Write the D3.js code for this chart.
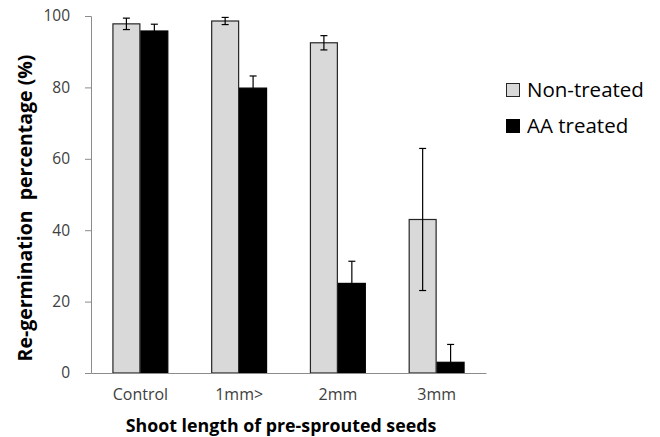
<!DOCTYPE html>
<meta charset="utf-8">
<style>
body { margin: 0; background: #fff; }
svg { font-family: "Open Sans", Lato, sans-serif; }
.axis path, .axis line { stroke: #8c8c8c; }
.axis text { fill: #404040; font-family: "Open Sans", Lato, sans-serif; }
</style>
<svg width="660" height="437"></svg>
<script src="https://d3js.org/d3.v7.min.js"></script>
<script>

var categories = ["Control", "1mm>", "2mm", "3mm"];
var seriesNames = ["Non-treated", "AA treated"];
var nonTreated = [97.8, 98.6, 92.5, 43];
var nonTreatedErr = [1.6, 1.0, 2.0, 19.9];
var aaTreated = [95.8, 79.8, 25.1, 3.0];
var aaTreatedErr = [1.9, 3.4, 6.2, 5.0];
var yTicks = [0, 20, 40, 60, 80, 100];

var fills = ["#d9d9d9", "#000000"];
var strokes = ["#262626", "#000000"];

var mLeft = 91, mRight = 486, mTop = 16, mBottom = 373;

var svg = d3.select("svg");

var x = d3.scaleBand().domain(categories).range([mLeft, mRight]);
// the pair of bars fills about 57% of each band, centred
var xs = d3.scaleBand().domain([0, 1]).range([x.bandwidth() * 0.217, x.bandwidth() * 0.783]);

var y = d3.scaleLinear().domain([0, 100]).range([mBottom, mTop]);

// y axis
var yAxis = svg.append("g").attr("class", "axis")
	.attr("transform", "translate(" + mLeft + ",0)")
	.call(d3.axisLeft(y).tickValues(yTicks).tickSize(6).tickSizeOuter(6).tickPadding(15));
yAxis.attr("font-family", null);
yAxis.selectAll("text").style("font-size", "15.5px");

var rows = categories.map(function(c, i) {
	return [
		{cat: c, s: 0, v: nonTreated[i], e: nonTreatedErr[i]},
		{cat: c, s: 1, v: aaTreated[i], e: aaTreatedErr[i]}
	];
});

var groups = svg.selectAll("g.grp")
	.data(rows)
	.enter().append("g")
		.attr("class", "grp")
		.attr("transform", function(d, i) { return "translate(" + x(categories[i]) + ",0)"; });

groups.selectAll("rect")
	.data(function(d) { return d; })
	.enter().append("rect")
		.attr("x", function(d) { return xs(d.s) + 0.5; })
		.attr("y", function(d) { return y(d.v); })
		.attr("width", xs.bandwidth() - 1)
		.attr("height", function(d) { return y(0) - y(d.v); })
		.attr("fill", function(d) { return fills[d.s]; })
		.attr("stroke", function(d) { return strokes[d.s]; })
		.attr("stroke-width", 1.2);

// error bars (the lower half of the black bars' whiskers is hidden in the bar)
var eb = groups.selectAll("g.err")
	.data(function(d) { return d; })
	.enter().append("g")
		.attr("class", "err")
		.attr("stroke", "#000")
		.attr("stroke-width", 1.2);

function cx(d) { return xs(d.s) + xs.bandwidth() / 2; }
function lo(d) { return d.s === 1 ? d.v : d.v - d.e; }

eb.append("line")
	.attr("x1", cx).attr("x2", cx)
	.attr("y1", function(d) { return y(d.v + d.e); })
	.attr("y2", function(d) { return y(lo(d)); });
eb.append("line")
	.attr("x1", function(d) { return cx(d) - 3.5; })
	.attr("x2", function(d) { return cx(d) + 3.5; })
	.attr("y1", function(d) { return y(d.v + d.e); })
	.attr("y2", function(d) { return y(d.v + d.e); });
eb.filter(function(d) { return d.s === 0; }).append("line")
	.attr("x1", function(d) { return cx(d) - 3.5; })
	.attr("x2", function(d) { return cx(d) + 3.5; })
	.attr("y1", function(d) { return y(d.v - d.e); })
	.attr("y2", function(d) { return y(d.v - d.e); });

// x axis
var xAxis = svg.append("g").attr("class", "axis")
	.attr("transform", "translate(0," + mBottom + ")")
	.call(d3.axisBottom(x).tickSize(0).tickPadding(16));
xAxis.attr("font-family", null);
xAxis.selectAll("text").style("font-size", "16px");

// titles
svg.append("text")
	.attr("x", 281).attr("y", 432)
	.attr("text-anchor", "middle")
	.style("font-size", "17.8px").style("font-weight", "bold").attr("fill", "#000")
	.text("Shoot length of pre-sprouted seeds");

svg.append("text")
	.attr("transform", "translate(32,208) rotate(-90)")
	.attr("text-anchor", "middle")
	.style("font-size", "19.5px").style("font-weight", "bold").style("white-space", "pre")
	.attr("fill", "#000")
	.text("Re-germination  percentage (%)");

// legend
var legend = svg.selectAll("g.leg")
	.data(seriesNames)
	.enter().append("g")
		.attr("class", "leg")
		.attr("transform", function(d, i) { return "translate(506," + (83 + i * 36) + ")"; });
legend.append("rect")
	.attr("x", 0.5).attr("y", 0.5).attr("width", 13).attr("height", 13)
	.attr("fill", function(d, i) { return fills[i]; })
	.attr("stroke", function(d, i) { return strokes[i]; });
legend.append("text")
	.attr("x", 21).attr("y", 7).attr("dy", "0.35em")
	.style("font-size", "20.5px").attr("fill", "#000")
	.text(function(d) { return d; });

</script>
